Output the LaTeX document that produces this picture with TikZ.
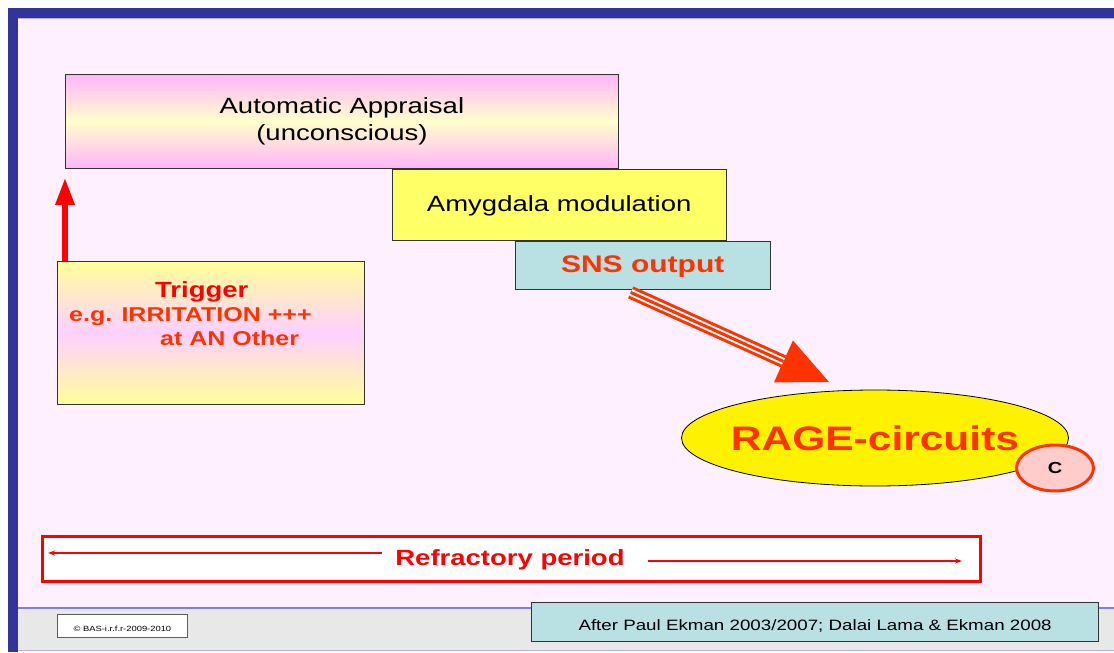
\documentclass[tikz,border=0pt]{standalone}
\usepackage{fontspec}
\setmainfont{Liberation Sans}[FakeStretch=1.25]
\usepackage{xcolor}
\usepackage{tikz}
\usetikzlibrary{positioning,shapes.geometric,arrows.meta}

\definecolor{slidebg}{HTML}{FEF0FE}
\definecolor{frameblue}{HTML}{333399}
\definecolor{framelight}{HTML}{8080D8}
\definecolor{footgrey}{HTML}{E8E8E8}
\definecolor{apink}{HTML}{FFB5FA}
\definecolor{ayellow}{HTML}{FFFFCC}
\definecolor{amyellow}{HTML}{FFFF66}
\definecolor{tyellow}{HTML}{FFFF99}
\definecolor{tpink}{HTML}{FFD0FF}
\definecolor{snsteal}{HTML}{B9E1E3}
\definecolor{ragered}{HTML}{FF3300}
\definecolor{cpink}{HTML}{FFCCCC}
\definecolor{boxline}{HTML}{333333}

\begin{document}
\begin{tikzpicture}[x=1pt, y=-1pt,
    box/.style={draw=boxline, line width=0.8pt, inner sep=0pt, anchor=north west},
    txt/.style={font=\fontsize{22}{27}\selectfont, align=center},
    refarrow/.style={red, line width=1.2pt, -{Stealth[length=7pt,width=5pt]}}]
    % slide frame
    \useasboundingbox (0,0) rectangle (1114,653);
    \fill[white] (0,0) rectangle (1114,653);
    \fill[slidebg] (18,18) rectangle (1114,608);
    \fill[footgrey] (18,608) rectangle (1114,650);
    \draw[framelight, line width=1.5pt] (18,608) -- (1114,608);
    \draw[framelight!60, line width=1pt] (18,650.5) -- (1114,650.5);
    \draw[framelight!60, line width=1pt] (18,18.5) -- (1114,18.5);
    \fill[frameblue] (8,8) rectangle (1114,18);
    \fill[frameblue] (8,8) rectangle (18,652);

    % boxes
    \node[box, txt, top color=apink, bottom color=apink, middle color=ayellow, minimum width=553pt, minimum height=94pt] (appraisal) at (65,74) {Automatic Appraisal\\(unconscious)};
    \node[box, txt, fill=amyellow, minimum width=334pt, minimum height=71pt, text height=18pt, below right=0pt and -227pt of appraisal.south east] (amygdala) {Amygdala modulation};
    \node[box, fill=snsteal, minimum width=255pt, minimum height=48pt, text height=20pt, text=ragered, font=\bfseries\fontsize{24}{26}\selectfont, below right=0pt and 123pt of amygdala.south west] (sns) {SNS output};
    \node[box, top color=tyellow, bottom color=tyellow, middle color=tpink, minimum width=307pt, minimum height=143pt, below right=92pt and -8pt of appraisal.south west] (trigger) {};
    \node[anchor=north west, inner sep=0pt, align=left, text=ragered, font=\bfseries\fontsize{20}{24}\selectfont] (trigger text) at ([shift={(12pt,-21pt)}]trigger.north west) {\hspace*{86pt}{\color{red}\fontsize{22}{24}\selectfont Trigger}\\e.g. IRRITATION +++\\\hspace*{91pt}at AN Other};

    \draw[red, line width=6pt, -{Triangle[width=20pt,length=26pt,line width=0pt]}] (trigger.north -| appraisal.south west) -- ([yshift=-10pt]appraisal.south west);

    % rage circuits
    \node[ellipse, draw=black, line width=0.8pt, fill=yellow, minimum width=387pt, minimum height=96pt, inner xsep=-12pt, inner ysep=0pt, text=ragered, font=\bfseries\fontsize{34}{36}\selectfont] (rage) at (875,438) {RAGE-circuits};
    \node[ellipse, draw=ragered, line width=3pt, fill=cpink, minimum width=77pt, minimum height=46pt, inner sep=0pt, font=\bfseries\fontsize{16}{18}\selectfont] (c) at (1055,468) {C};

    \coordinate (sns out) at ([shift={(-12pt,-3pt)}]sns.south);
    \coordinate (rage in) at ([shift={(-46pt,56pt)}]rage.center);
    \draw[ragered, line width=13pt, -{Triangle[width=46pt,length=50pt,line width=0pt]}] (sns out) -- (rage in);
    \foreach \w/\c in {7pt/white, 3pt/ragered}
        \draw[\c, line width=\w, shorten >=50pt] (sns out) -- (rage in);

    % refractory period
    \node[box, draw=red, line width=3pt, fill=white, minimum width=938pt, minimum height=45pt] (refbox) at (40.5,534.5) {};
    \node[text=red, font=\bfseries\fontsize{22}{24}\selectfont] (period) at (510,560) {Refractory period};
    \coordinate (period left) at (48,553);
    \coordinate (period right) at (962,561);
    \draw[refarrow] ([shift={(-10pt,7pt)}]period.west) -- (period left);
    \draw[refarrow] ([shift={(20pt,-1pt)}]period.east) -- (period right);

    % footer
    \node[box, draw=boxline!80, fill=white, minimum width=130pt, minimum height=23pt, text height=12pt, font=\fontsize{7.5}{9}\selectfont] (copyright) at (57,614) {© BAS-i.r.f.r-2009-2010};
    \node[box, fill=snsteal, line width=1.2pt, minimum width=567pt, minimum height=39pt, text height=18pt, font=\fontsize{15}{17}\selectfont] (source) at (531,602) {After Paul Ekman 2003/2007; Dalai Lama \& Ekman 2008};
\end{tikzpicture}
\end{document}
